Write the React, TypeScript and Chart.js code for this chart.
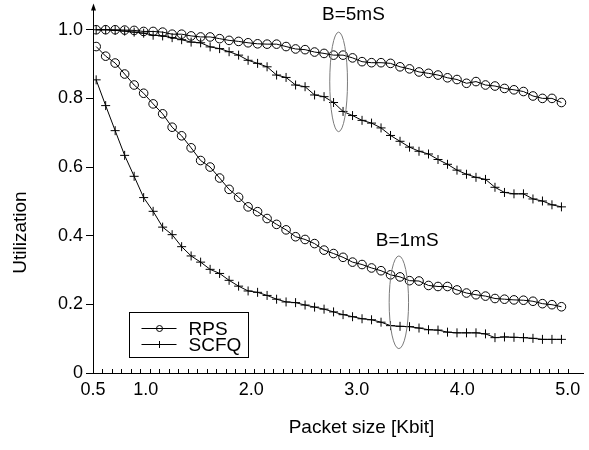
import React, { useEffect, useRef } from 'react';
import { Chart, registerables } from 'chart.js';

Chart.register(...registerables);

// Packet size [Kbit]
const packetSize = [
  0.53, 0.62, 0.71, 0.80, 0.89, 0.98, 1.07, 1.16, 1.25, 1.34,
  1.43, 1.52, 1.61, 1.70, 1.79, 1.88, 1.97, 2.06, 2.15, 2.24,
  2.33, 2.42, 2.51, 2.60, 2.69, 2.78, 2.87, 2.96, 3.05, 3.14,
  3.23, 3.32, 3.41, 3.50, 3.59, 3.68, 3.77, 3.86, 3.95, 4.04,
  4.13, 4.22, 4.31, 4.40, 4.49, 4.58, 4.67, 4.76, 4.85, 4.94,
];

// B = 5 mS
const rps5 = [
  1.000, 1.000, 1.000, 0.999, 0.998, 0.995, 0.995, 0.993, 0.987, 0.987,
  0.982, 0.979, 0.979, 0.974, 0.969, 0.966, 0.962, 0.959, 0.958, 0.958,
  0.951, 0.944, 0.942, 0.935, 0.931, 0.926, 0.926, 0.918, 0.907, 0.904,
  0.904, 0.902, 0.892, 0.886, 0.877, 0.873, 0.868, 0.860, 0.855, 0.844,
  0.849, 0.839, 0.836, 0.829, 0.825, 0.820, 0.807, 0.800, 0.800, 0.788,
];
const scfq5 = [
  1.000, 1.000, 0.998, 0.996, 0.993, 0.990, 0.984, 0.982, 0.977, 0.971,
  0.964, 0.962, 0.950, 0.945, 0.936, 0.926, 0.911, 0.902, 0.892, 0.868,
  0.861, 0.839, 0.834, 0.810, 0.805, 0.788, 0.762, 0.750, 0.736, 0.728,
  0.714, 0.692, 0.675, 0.658, 0.646, 0.638, 0.622, 0.608, 0.591, 0.579,
  0.570, 0.564, 0.541, 0.526, 0.522, 0.522, 0.507, 0.501, 0.490, 0.484,
];

// B = 1 mS
const rps1 = [
  0.951, 0.923, 0.903, 0.871, 0.839, 0.815, 0.784, 0.755, 0.716, 0.691,
  0.656, 0.619, 0.600, 0.568, 0.535, 0.512, 0.484, 0.470, 0.450, 0.433,
  0.417, 0.397, 0.389, 0.377, 0.358, 0.348, 0.337, 0.323, 0.316, 0.306,
  0.298, 0.286, 0.280, 0.269, 0.268, 0.255, 0.252, 0.252, 0.242, 0.233,
  0.228, 0.224, 0.217, 0.215, 0.213, 0.212, 0.209, 0.202, 0.199, 0.193,
];
const scfq1 = [
  0.854, 0.779, 0.706, 0.634, 0.573, 0.511, 0.471, 0.425, 0.403, 0.368,
  0.341, 0.323, 0.302, 0.290, 0.270, 0.253, 0.239, 0.235, 0.226, 0.215,
  0.207, 0.205, 0.198, 0.192, 0.186, 0.178, 0.170, 0.164, 0.158, 0.155,
  0.148, 0.138, 0.136, 0.135, 0.131, 0.126, 0.125, 0.119, 0.117, 0.117,
  0.117, 0.114, 0.103, 0.105, 0.104, 0.103, 0.101, 0.098, 0.098, 0.098,
];

const xTickValues = [0.5, 1.0, 2.0, 3.0, 4.0, 5.0];
const yTickValues = [0, 0.2, 0.4, 0.6, 0.8, 1.0];
const xMinorStart = 0.5;
const xMinorStep = 0.09;
const xMinorCount = 51;

const xTitle = 'Packet size [Kbit]';
const yTitle = 'Utilization';

// Annotation groups: label position and ellipse (center, radii) in data units
const groupLabels = ['B=5mS', 'B=1mS'];
const groupLabelX = [2.968, 3.478];
const groupLabelY = [1.045, 0.385];
const ellipseCx = [2.828, 3.399];
const ellipseCy = [0.848, 0.206];
const ellipseRx = [0.084, 0.092];
const ellipseRy = [0.145, 0.135];

const FONT = '"Liberation Sans", Arial, Helvetica, sans-serif';

const toXY = (ys: number[]) => ys.map((y, i) => ({ x: packetSize[i], y }));

const decorPlugin = {
  id: 'decor',
  afterDraw(chart: any) {
    const { ctx, chartArea: ca, scales } = chart;
    const xs = scales.x;
    const ys = scales.y;
    ctx.save();

    // minor ticks on x axis (pointing inward)
    ctx.strokeStyle = '#000';
    ctx.lineWidth = 1;
    ctx.beginPath();
    for (let k = 0; k < xMinorCount; k++) {
      const v = xMinorStart + k * xMinorStep;
      const px = Math.round(xs.getPixelForValue(v)) + 0.5;
      ctx.moveTo(px, ca.bottom);
      ctx.lineTo(px, ca.bottom - 4);
    }
    ctx.stroke();

    // arrow head on top of y axis
    const ax = Math.round(ca.left) + 0.5;
    ctx.fillStyle = '#000';
    ctx.beginPath();
    ctx.moveTo(ax, ca.top - 2);
    ctx.lineTo(ax - 2.5, ca.top + 5);
    ctx.lineTo(ax + 2.5, ca.top + 5);
    ctx.closePath();
    ctx.fill();

    // ellipses
    ctx.strokeStyle = '#7a7a7a';
    ctx.lineWidth = 1;
    for (let i = 0; i < ellipseCx.length; i++) {
      const cx = xs.getPixelForValue(ellipseCx[i]);
      const cy = ys.getPixelForValue(ellipseCy[i]);
      const rx = Math.abs(xs.getPixelForValue(ellipseCx[i] + ellipseRx[i]) - cx);
      const ry = Math.abs(ys.getPixelForValue(ellipseCy[i] + ellipseRy[i]) - cy);
      ctx.beginPath();
      ctx.ellipse(cx, cy, rx, ry, 0, 0, Math.PI * 2);
      ctx.stroke();
    }

    // group labels
    ctx.fillStyle = '#000';
    ctx.font = `19px ${FONT}`;
    ctx.textAlign = 'center';
    ctx.textBaseline = 'middle';
    for (let i = 0; i < groupLabels.length; i++) {
      ctx.fillText(groupLabels[i], xs.getPixelForValue(groupLabelX[i]), ys.getPixelForValue(groupLabelY[i]));
    }

    // axis titles
    ctx.fillText(xTitle, 361.5, 428);
    ctx.save();
    ctx.translate(20.5, 232.5);
    ctx.rotate(-Math.PI / 2);
    ctx.fillText(yTitle, 0, 0);
    ctx.restore();

    // legend
    const lx = ca.left + 36.5;
    const ly = ca.bottom - 60.5;
    const lw = 119;
    const lh = 45;
    ctx.strokeStyle = '#000';
    ctx.lineWidth = 1;
    ctx.strokeRect(lx, ly, lw, lh);
    const seen: string[] = [];
    const entries: any[] = [];
    chart.data.datasets.forEach((d: any) => {
      if (!seen.includes(d.label)) {
        seen.push(d.label);
        entries.push(d);
      }
    });
    entries.forEach((d: any, i: number) => {
      const yy = ly + 16 + i * 16;
      ctx.beginPath();
      ctx.moveTo(lx + 12, yy);
      ctx.lineTo(lx + 47, yy);
      ctx.stroke();
      const mx = lx + 30;
      ctx.beginPath();
      if (d.pointStyle === 'circle') {
        ctx.arc(mx, yy, 3, 0, Math.PI * 2);
      } else {
        ctx.moveTo(mx - 3.5, yy);
        ctx.lineTo(mx + 3.5, yy);
        ctx.moveTo(mx, yy - 3.5);
        ctx.lineTo(mx, yy + 3.5);
      }
      ctx.stroke();
      ctx.textAlign = 'left';
      ctx.fillText(d.label, lx + 59, yy + 1);
    });

    ctx.restore();
  },
};

function makeDataset(label: string, data: number[], style: 'circle' | 'cross') {
  return {
    label,
    data: toXY(data),
    borderColor: '#000',
    borderWidth: 1,
    pointStyle: style,
    pointRadius: style === 'circle' ? 4.3 : 4.5,
    pointBorderColor: '#000',
    pointBackgroundColor: 'rgba(0,0,0,0)',
    pointBorderWidth: 1,
    tension: 0,
    fill: false,
  };
}

export default function App() {
  const ref = useRef<HTMLCanvasElement>(null);

  useEffect(() => {
    const canvas = ref.current;
    if (!canvas) return;
    const chart = new Chart(canvas, {
      type: 'line',
      data: {
        datasets: [
          makeDataset('RPS', rps5, 'circle'),
          makeDataset('SCFQ', scfq5, 'cross'),
          makeDataset('RPS', rps1, 'circle'),
          makeDataset('SCFQ', scfq1, 'cross'),
        ] as any,
      },
      options: {
        responsive: false,
        animation: false,
        devicePixelRatio: 1,
        layout: { padding: { top: 3, left: 0, right: 0, bottom: 0 } },
        plugins: {
          legend: { display: false },
          tooltip: { enabled: false },
        },
        events: [],
        scales: {
          x: {
            type: 'linear',
            min: 0.5,
            max: 5.149,
            afterBuildTicks: (s: any) => {
              s.ticks = xTickValues.map((v) => ({ value: v }));
            },
            afterFit: (s: any) => {
              s.height = 77;
              s.paddingLeft = 0;
              s.paddingRight = 0;
            },
            ticks: {
              color: '#000',
              font: { family: FONT, size: 18 },
              padding: 6,
              maxRotation: 0,
              autoSkip: false,
              callback: (v: any) => Number(v).toFixed(1),
            },
            grid: { display: false, drawTicks: false },
            border: { display: true, color: '#000', width: 1 },
          },
          y: {
            type: 'linear',
            min: 0,
            max: 1.0706,
            afterBuildTicks: (s: any) => {
              s.ticks = yTickValues.map((v) => ({ value: v }));
            },
            afterFit: (s: any) => {
              s.width = 93;
              s.paddingTop = 0;
              s.paddingBottom = 0;
            },
            ticks: {
              color: '#000',
              font: { family: FONT, size: 18 },
              padding: 3,
              autoSkip: false,
              callback: (v: any) => (Number(v) === 0 ? '0' : Number(v).toFixed(1)),
            },
            grid: { drawOnChartArea: false, drawTicks: true, tickLength: 7, color: '#000' },
            border: { display: true, color: '#000', width: 1 },
          },
        },
      },
      plugins: [decorPlugin],
    });
    return () => chart.destroy();
  }, []);

  return (
    <div style={{ position: 'fixed', left: 0, top: 0, width: 589, height: 450, background: '#fff' }}>
      <canvas ref={ref} width={589} height={450} style={{ display: 'block', width: 589, height: 450 }} />
    </div>
  );
}
